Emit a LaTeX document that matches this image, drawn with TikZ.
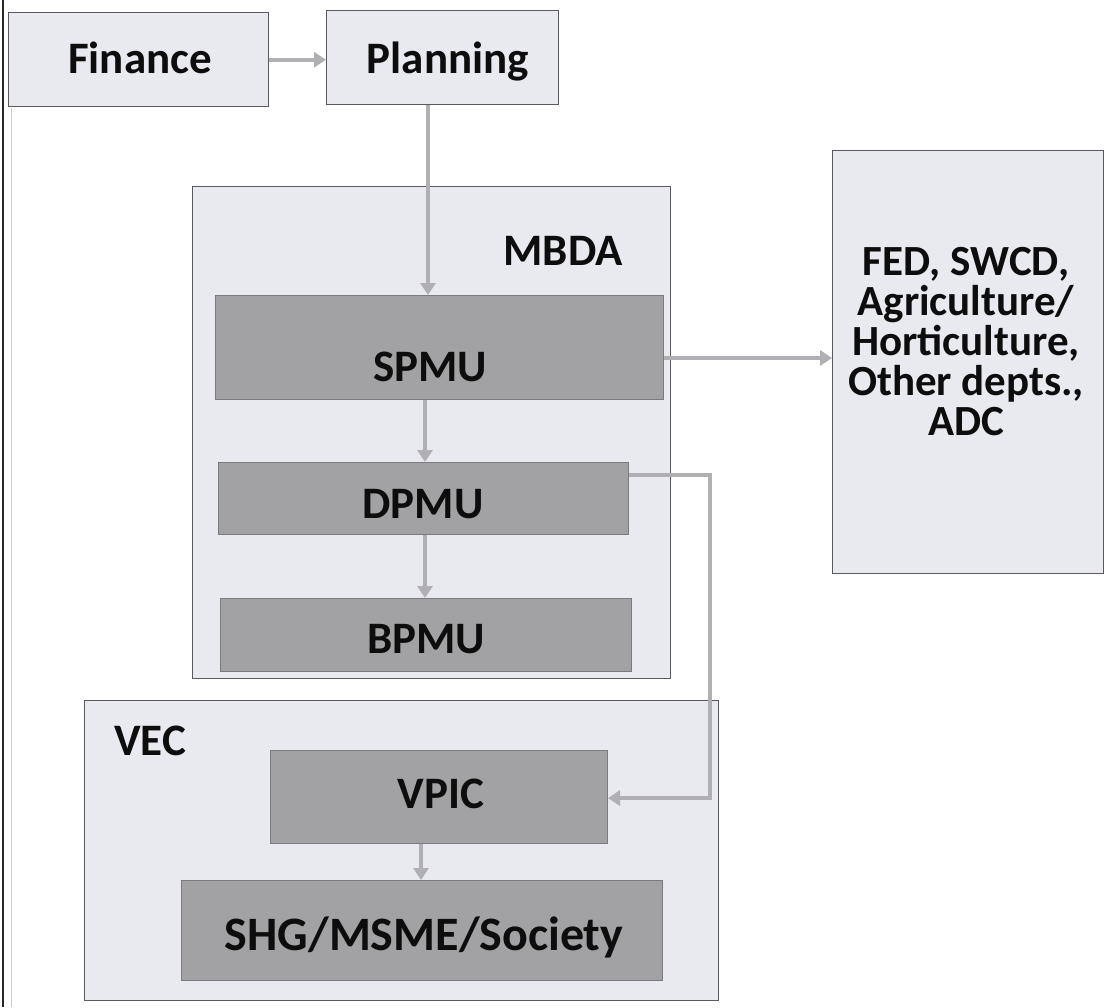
\documentclass[tikz,border=0pt]{standalone}
\usepackage{fontspec}
\setmainfont{Carlito}
\usetikzlibrary{arrows.meta}
\definecolor{lbg}{RGB}{233,234,239}
\definecolor{dbg}{RGB}{162,162,165}
\definecolor{bordc}{RGB}{90,90,94}
\definecolor{arrc}{RGB}{175,175,180}
\begin{document}
\begin{tikzpicture}[x=1pt,y=-1pt,
  lightbox/.style={draw=bordc, line width=1.4pt, fill=lbg, inner sep=0, anchor=north west},
  darkbox/.style={draw=bordc!80, line width=1pt, fill=dbg, inner sep=0, anchor=north west},
  lbl/.style={font=\bfseries\fontsize{45}{45}\selectfont, inner sep=0, anchor=base, text=black!95},
  conn/.style={draw=arrc, line width=3.8pt, -{Triangle[width=15pt,length=12pt]}},
]
\useasboundingbox (0,0) rectangle (1107,1007);
\fill[white] (0,0) rectangle (1107,1007);
% page edge lines
\draw[black!85, line width=2pt] (3,0) -- (3,1007);
\draw[black!20, line width=1pt] (11,108) -- (11,1007);

% boxes
\node[lightbox, minimum width=260pt, minimum height=94pt] (fin) at (8,12) {};
\node[lightbox, minimum width=232pt, minimum height=94pt] (plan) at (326,10) {};
\node[lightbox, minimum width=478pt, minimum height=492pt] (mbda) at (192,186) {};
\node[darkbox, minimum width=448pt, minimum height=104pt] (spmu) at (215,295) {};
\node[darkbox, minimum width=410pt, minimum height=72pt] (dpmu) at (218,462) {};
\node[darkbox, minimum width=411pt, minimum height=73pt] (bpmu) at (220,598) {};
\node[lightbox, minimum width=271pt, minimum height=423pt] (fed) at (832,150) {};
\node[lightbox, minimum width=634pt, minimum height=300pt] (vec) at (84,700) {};
\node[darkbox, minimum width=337pt, minimum height=93pt] (vpic) at (270,750) {};
\node[darkbox, minimum width=481pt, minimum height=100pt] (shg) at (181,880) {};

% labels
\node[lbl] (finT) at (140,73) {Finance};
\node[lbl] (planT) at (448,73) {Planning};
\node[lbl] (mbdaT) at (563,265) {MBDA};
\node[lbl] (spmuT) at (430,381) {SPMU};
\node[lbl] (dpmuT) at (423,518) {DPMU};
\node[lbl] (bpmuT) at (426,653) {BPMU};
\node[lbl] (vecT) at (150,755) {VEC};
\node[lbl] (vpicT) at (441,808) {VPIC};
\node[lbl, font=\bfseries\fontsize{48}{48}\selectfont] (shgT) at (424,950) {SHG/MSME/Society};
\node[font=\bfseries\fontsize{43}{40}\selectfont, inner sep=0, align=center, text=black!95] (fedT) at (966,342)
  {FED, SWCD,\\Agriculture/\\Horticulture,\\Other depts.,\\ADC};

% connectors
\coordinate (xa) at (428,0);
\coordinate (xb) at (425,0);
\coordinate (xc) at (421,0);
\coordinate (ya) at (0,358);
\coordinate (r1) at (710,475);
\coordinate (r2) at (710,798);
\draw[conn] (fin.east) -- (fin.east -| plan.west);
\draw[conn] (plan.south -| xa) -- (spmu.north -| xa);
\draw[conn] (spmu.south -| xb) -- (dpmu.north -| xb);
\draw[conn] (dpmu.south -| xb) -- (bpmu.north -| xb);
\draw[conn] (spmu.east |- ya) -- (fed.west |- ya);
\draw[conn] (dpmu.east |- r1) -- (r1) -- (r2) -- (vpic.east |- r2);
\draw[conn] (vpic.south -| xc) -- (shg.north -| xc);
\end{tikzpicture}
\end{document}
